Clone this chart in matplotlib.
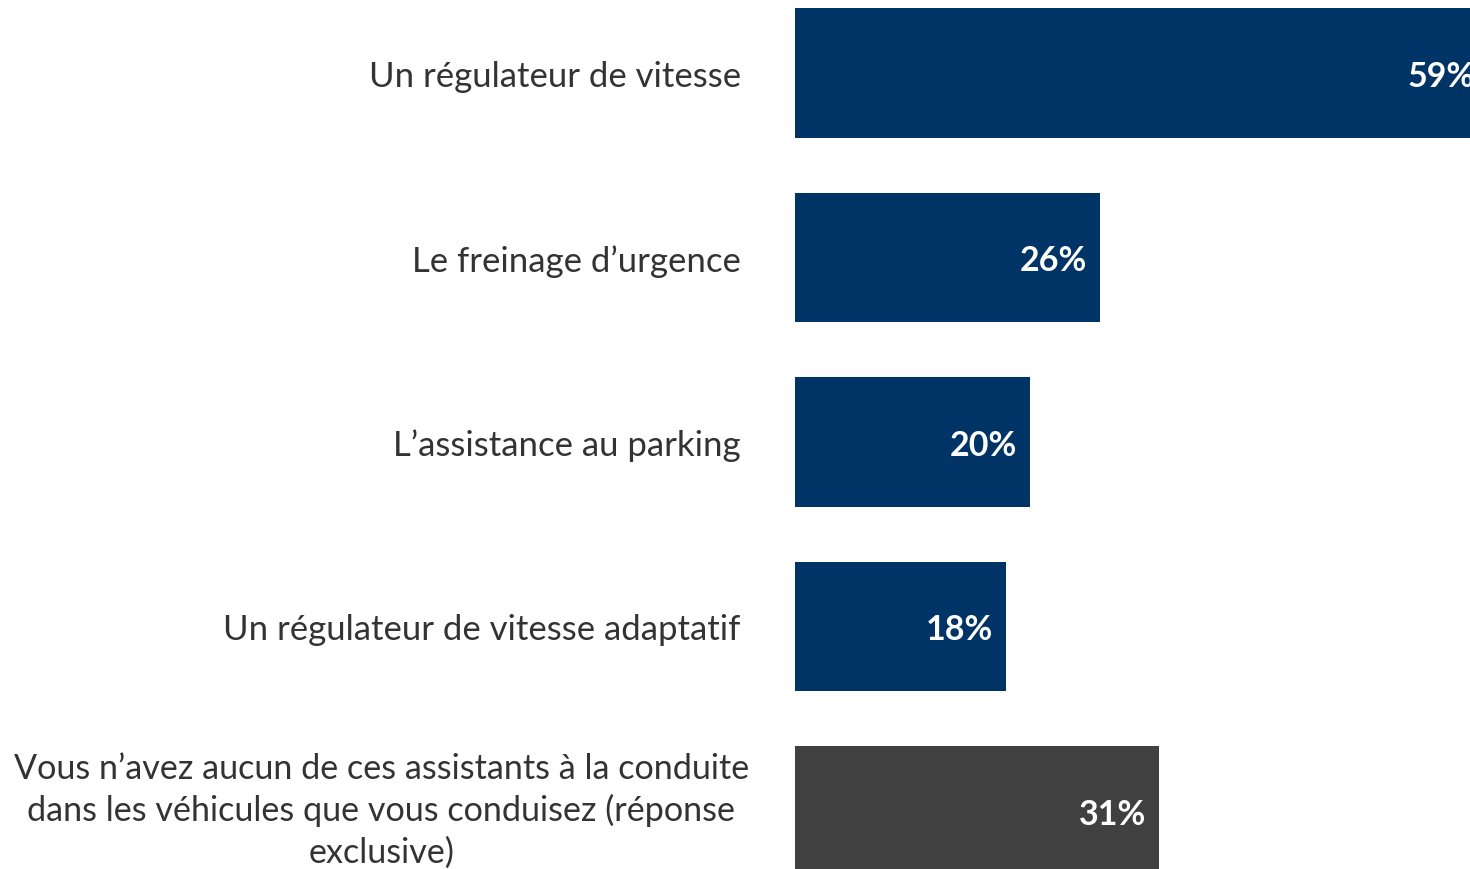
import matplotlib
matplotlib.use('Agg')
import matplotlib.pyplot as plt
import matplotlib.transforms as mtransforms

categories = [
    'Un régulateur de vitesse',
    'Le freinage d\u2019urgence',
    'L\u2019assistance au parking',
    'Un régulateur de vitesse adaptatif',
    'Vous n\u2019avez aucun de ces assistants à la conduite\ndans les véhicules que vous conduisez (réponse\nexclusive)',
]
values = [59, 26, 20, 18, 31]
colors = ['#003366', '#003366', '#003366', '#003366', '#404040']

plt.rcParams['font.family'] = ['Lato', 'DejaVu Sans']

fig = plt.figure(figsize=(14.7, 8.7), dpi=100)
ax = fig.add_axes([795 / 1470, 0, 1 - 795 / 1470, 1])

pos = list(range(len(values)))
ax.barh(pos, values, height=0.7, color=colors)

# px per percent ~ 11.73
ax.set_xlim(0, 675 / 11.73)
ax.set_ylim(4 + 58 / 184.5, -74 / 184.5)

for p, v in zip(pos, values):
    ax.text(v - 1.1, p + 0.015, f'{v}%', ha='right', va='center', color='white',
            fontsize=24.5, fontweight='bold', clip_on=True)

ax.set_yticks(pos)
ax.set_yticklabels(categories, fontsize=25, color='#333333',
                   multialignment='center', linespacing=1.3)
ax.tick_params(axis='y', length=0, pad=39)
# the long label: a touch smaller, nudged right and up
last = ax.get_yticklabels()[-1]
last.set_fontsize(24.6)
last.set_linespacing(1.35)
last.set_transform(last.get_transform() +
                   mtransforms.ScaledTranslation(8 / 100, 9 / 100, fig.dpi_scale_trans))
ax.set_xticks([])
for s in ax.spines.values():
    s.set_visible(False)

fig.savefig('out.png', dpi=100)
